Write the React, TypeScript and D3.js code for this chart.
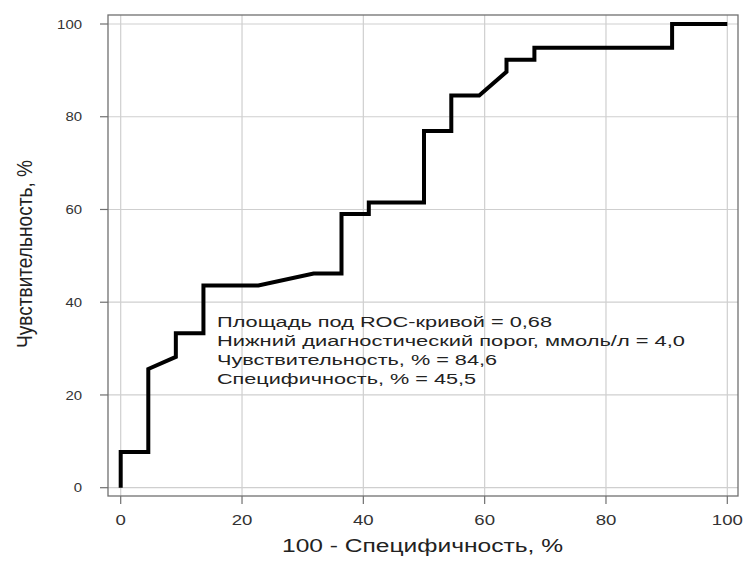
import React from "react";
import * as d3 from "d3";

const fpr = [0, 0, 4.55, 4.55, 9.09, 9.09, 13.64, 13.64, 22.7, 31.8, 36.4, 36.4, 40.9, 40.9, 50, 50, 54.5, 54.5, 59.1, 63.6, 63.6, 68.2, 68.2, 90.9, 90.9, 100];
const tpr = [0, 7.7, 7.7, 25.6, 28.2, 33.3, 33.3, 43.6, 43.6, 46.2, 46.2, 59.0, 59.0, 61.5, 61.5, 76.9, 76.9, 84.6, 84.6, 89.7, 92.3, 92.3, 94.9, 94.9, 100, 100];
const xTicks = [0, 20, 40, 60, 80, 100];
const yTicks = [0, 20, 40, 60, 80, 100];
const annotation = [
  "Площадь под ROC-кривой = 0,68",
  "Нижний диагностический порог, ммоль/л = 4,0",
  "Чувствительность, % = 84,6",
  "Специфичность, % = 45,5",
];
const annotationWidths = [335, 468, 280, 259];
const xTitle = "100 - Специфичность, %";
const yTitle = "Чувствительность, %";

export default function App() {
  const W = 744, H = 564;
  const box = { l: 108, t: 15, r: 738, b: 496 };
  const x = d3.scaleLinear().domain([0, 100]).range([120.7, 727.3]);
  const y = d3.scaleLinear().domain([0, 100]).range([487.7, 24]);
  const pts: [number, number][] = fpr.map((v, i) => [v, tpr[i]]);
  const line = d3.line<[number, number]>().x(d => x(d[0])).y(d => y(d[1]));
  const font = "'Liberation Sans', Arial, sans-serif";
  return (
    <svg width={W} height={H} style={{ position: "absolute", left: 0, top: 0, background: "#fff" }} fontFamily={font}>
      <rect x={0} y={0} width={W} height={H} fill="#fff" />
      {xTicks.map(t => (
        <line key={"gx" + t} x1={x(t)} x2={x(t)} y1={box.t} y2={box.b} stroke="#cfcfcf" strokeWidth={1.2} />
      ))}
      {yTicks.map(t => (
        <line key={"gy" + t} x1={box.l} x2={box.r} y1={y(t)} y2={y(t)} stroke="#cfcfcf" strokeWidth={1.2} />
      ))}
      <rect x={box.l} y={box.t} width={box.r - box.l} height={box.b - box.t} fill="none" stroke="#707070" strokeWidth={1.3} />
      {xTicks.map(t => (
        <g key={"tx" + t}>
          <line x1={x(t)} x2={x(t)} y1={box.b} y2={box.b + 8} stroke="#707070" strokeWidth={1.2} />
          <text transform={`translate(${x(t)},525) scale(1.33,1)`} textAnchor="middle" fontSize={14} fill="#333">{t}</text>
        </g>
      ))}
      {yTicks.map(t => (
        <g key={"ty" + t}>
          <line x1={box.l - 8} x2={box.l} y1={y(t)} y2={y(t)} stroke="#707070" strokeWidth={1.2} />
          <text transform={`translate(82,${y(t) + 4.7}) scale(1.15,1)`} textAnchor="end" fontSize={13} fill="#333">{t}</text>
        </g>
      ))}
      <path d={line(pts) || ""} fill="none" stroke="#000" strokeWidth={4} strokeLinejoin="miter" />
      {annotation.map((s, i) => (
        <text key={i} x={217} y={327 + i * 19} fontSize={15.5} fill="#222" textLength={annotationWidths[i]} lengthAdjust="spacingAndGlyphs">{s}</text>
      ))}
      <text x={282} y={552} fontSize={17.5} fill="#222" textLength={281} lengthAdjust="spacingAndGlyphs">{xTitle}</text>
      <text transform={`translate(32,348) scale(1.3,1) rotate(-90)`} fontSize={17.5} fill="#222" textLength={188} lengthAdjust="spacingAndGlyphs">{yTitle}</text>
    </svg>
  );
}
